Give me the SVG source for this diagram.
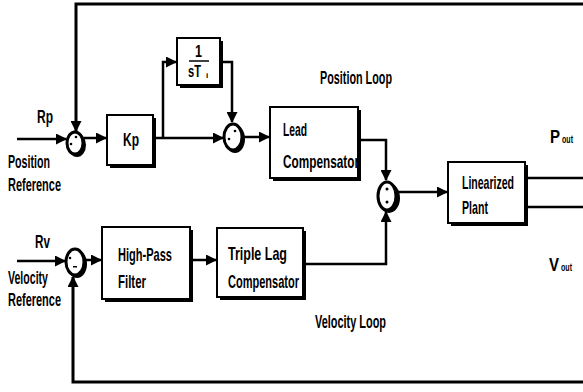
<svg xmlns="http://www.w3.org/2000/svg" width="583" height="392" viewBox="0 0 583 392">
<style>
.ln{fill:none;stroke:#000;stroke-width:2.5}
.bx{fill:#fff;stroke:#000;stroke-width:2}
.sh{fill:#000}
.sm{fill:#fff;stroke:#000;stroke-width:3}
.t{font-family:"Liberation Sans",Arial,sans-serif;font-size:19px;font-weight:bold;fill:#000}
.t.m{font-size:16px}
.t.s{font-size:10px}
.t.xs{font-size:8px}
.d{fill:#000}
</style>
<defs>
<marker id="ar" markerUnits="userSpaceOnUse" markerWidth="11" markerHeight="11" refX="10" refY="5.5" orient="auto">
<path d="M0,0 L11,5.5 L0,11 z" fill="#000"/>
</marker>
</defs>
<rect width="583" height="392" fill="#fff"/>
<g id="connectors">
<path class="ln" d="M583,4 H76 V131" marker-end="url(#ar)" style="stroke-width:3"/>
<path class="ln" d="M17,139 H66" marker-end="url(#ar)"/>
<path class="ln" d="M84,138 H106" marker-end="url(#ar)"/>
<path class="ln" d="M153,138 H223" marker-end="url(#ar)"/>
<path class="ln" d="M163,138 V62 H176" marker-end="url(#ar)"/>
<path class="ln" d="M220,62 H232 V122" marker-end="url(#ar)"/>
<path class="ln" d="M242,137 H269" marker-end="url(#ar)"/>
<path class="ln" d="M358,140 H386 V180" marker-end="url(#ar)"/>
<path class="ln" d="M397,192 H447" marker-end="url(#ar)"/>
<path class="ln" d="M525,178 H583"/>
<path class="ln" d="M525,207 H583"/>
<path class="ln" d="M303,264 H386 V212" marker-end="url(#ar)"/>
<path class="ln" d="M17,261 H65" marker-end="url(#ar)"/>
<path class="ln" d="M84,260 H101" marker-end="url(#ar)"/>
<path class="ln" d="M190,260 H216" marker-end="url(#ar)"/>
<path class="ln" d="M583,382 H73 V277" marker-end="url(#ar)" style="stroke-width:3"/>
</g>
<g id="sum1">
<ellipse class="sh" cx="77" cy="145" rx="9" ry="12"/>
<ellipse class="sm" cx="75" cy="143" rx="8" ry="11"/>
<circle class="d" cx="76" cy="137" r="1.3"/><circle class="d" cx="71" cy="144" r="1.3"/>
</g>
<g id="sum2">
<ellipse class="sh" cx="235" cy="139" rx="10" ry="14"/>
<ellipse class="sm" cx="233" cy="137" rx="9" ry="13"/>
<circle class="d" cx="235" cy="131" r="1.3"/><circle class="d" cx="229" cy="139" r="1.3"/>
</g>
<g id="sum3">
<ellipse class="sh" cx="389" cy="198" rx="11" ry="15"/>
<ellipse class="sm" cx="387" cy="196" rx="9" ry="14"/>
<circle class="d" cx="387" cy="189" r="1.5"/><circle class="d" cx="387" cy="202" r="1.5"/>
</g>
<g id="sum4">
<ellipse class="sh" cx="77" cy="264" rx="10" ry="14"/>
<ellipse class="sm" cx="75" cy="262" rx="9" ry="13"/>
<circle class="d" cx="70" cy="258" r="1.3"/><rect class="d" x="73" y="266" width="4" height="1.5"/>
</g>
<g id="kp">
<rect class="sh" x="110" y="118" width="46" height="50"/>
<rect class="bx" x="107" y="115" width="46" height="50"/>
<text class="t" x="123" y="146" textLength="16" lengthAdjust="spacingAndGlyphs">Kp</text>
</g>
<g id="integrator">
<rect class="sh" x="180" y="41" width="43" height="47"/>
<rect class="bx" x="177" y="38" width="43" height="47"/>
<text class="t m" x="195" y="57" textLength="7" lengthAdjust="spacingAndGlyphs">1</text>
<line x1="189" y1="61" x2="209" y2="61" stroke="#000" stroke-width="1.5"/>
<text class="t m" x="188" y="77" textLength="13" lengthAdjust="spacingAndGlyphs">sT</text>
<text class="t xs" x="206" y="78">i</text>
</g>
<g id="lead">
<rect class="sh" x="273" y="110" width="88" height="71"/>
<rect class="bx" x="270" y="107" width="88" height="71"/>
<text class="t" x="283" y="136" textLength="24" lengthAdjust="spacingAndGlyphs">Lead</text>
<text class="t" x="283" y="168" textLength="76" lengthAdjust="spacingAndGlyphs">Compensator</text>
</g>
<g id="plant">
<rect class="sh" x="451" y="165" width="77" height="61"/>
<rect class="bx" x="448" y="162" width="77" height="61"/>
<text class="t" x="462" y="189" textLength="52" lengthAdjust="spacingAndGlyphs">Linearized</text>
<text class="t" x="462" y="214" textLength="26" lengthAdjust="spacingAndGlyphs">Plant</text>
</g>
<g id="highpass">
<rect class="sh" x="105" y="230" width="88" height="72"/>
<rect class="bx" x="102" y="227" width="88" height="72"/>
<text class="t" x="118" y="261" textLength="54" lengthAdjust="spacingAndGlyphs">High-Pass</text>
<text class="t" x="118" y="288" textLength="28" lengthAdjust="spacingAndGlyphs">Filter</text>
</g>
<g id="triplelag">
<rect class="sh" x="220" y="231" width="86" height="69"/>
<rect class="bx" x="217" y="228" width="86" height="69"/>
<text class="t" x="228" y="260" textLength="59" lengthAdjust="spacingAndGlyphs">Triple Lag</text>
<text class="t" x="228" y="288" textLength="71" lengthAdjust="spacingAndGlyphs">Compensator</text>
</g>
<g id="labels">
<text class="t" x="37" y="123" textLength="16" lengthAdjust="spacingAndGlyphs">Rp</text>
<text class="t" x="8" y="168" textLength="42" lengthAdjust="spacingAndGlyphs">Position</text>
<text class="t" x="8" y="191" textLength="53" lengthAdjust="spacingAndGlyphs">Reference</text>
<text class="t" x="35" y="248" textLength="15" lengthAdjust="spacingAndGlyphs">Rv</text>
<text class="t" x="8" y="284" textLength="40" lengthAdjust="spacingAndGlyphs">Velocity</text>
<text class="t" x="8" y="306" textLength="53" lengthAdjust="spacingAndGlyphs">Reference</text>
<text class="t" x="320" y="84" textLength="72" lengthAdjust="spacingAndGlyphs">Position Loop</text>
<text class="t" x="315" y="328" textLength="71" lengthAdjust="spacingAndGlyphs">Velocity Loop</text>
<text class="t" x="550" y="143" textLength="10" lengthAdjust="spacingAndGlyphs">P</text>
<text class="t s" x="562" y="143" textLength="11" lengthAdjust="spacingAndGlyphs">out</text>
<text class="t" x="549" y="271" textLength="10" lengthAdjust="spacingAndGlyphs">V</text>
<text class="t s" x="561" y="271" textLength="11" lengthAdjust="spacingAndGlyphs">out</text>
</g>
</svg>
